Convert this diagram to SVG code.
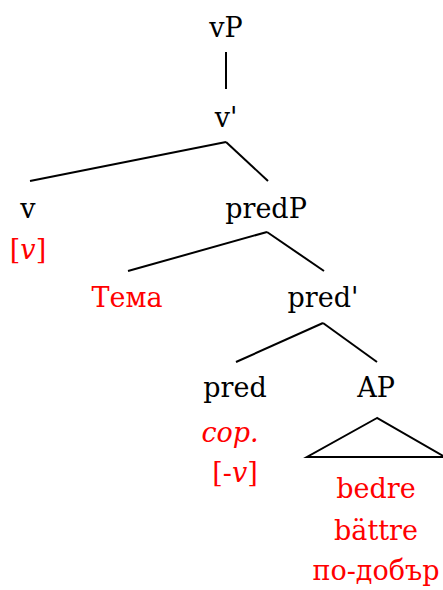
<svg xmlns="http://www.w3.org/2000/svg" width="443" height="590" viewBox="0 0 443 590">
<style>
text{font-family:"DejaVu Serif","Liberation Serif",serif;font-size:27px;text-anchor:middle}
.k{fill:#000}
.r{fill:#ff0000}
.i{font-style:italic}
line,polygon{stroke:#000;stroke-width:2;fill:none}
</style>
<rect width="443" height="590" fill="#fff"/>
<g id="connectors">
<line x1="226" y1="52" x2="226" y2="89"/>
<line x1="226" y1="142" x2="30" y2="181"/>
<line x1="226" y1="142" x2="268" y2="181"/>
<line x1="267" y1="232" x2="128" y2="271"/>
<line x1="267" y1="232" x2="324" y2="271"/>
<line x1="323" y1="323" x2="236" y2="362"/>
<line x1="323" y1="323" x2="377" y2="362"/>
</g>
<g id="n-vP"><text class="k" x="226" y="37">vP</text></g>
<g id="n-vbar"><text class="k" x="226" y="127">v'</text></g>
<g id="n-v"><text class="k" x="28" y="218">v</text><text class="r" x="28" y="259">[<tspan class="i">v</tspan>]</text></g>
<g id="n-predP"><text class="k" x="266" y="218">predP</text></g>
<g id="n-tema"><text class="r" x="127" y="307">Тема</text></g>
<g id="n-predbar"><text class="k" x="323" y="307">pred'</text></g>
<g id="n-pred"><text class="k" x="235" y="397">pred</text><text class="r i" x="230" y="442">cop.</text><text class="r" x="235" y="482">[-<tspan class="i">v</tspan>]</text></g>
<g id="n-AP"><text class="k" x="376" y="397">AP</text>
<polygon points="377,418 307,457 445,457"/>
<text class="r" x="376" y="498">bedre</text><text class="r" x="376" y="540">bättre</text><text class="r" x="376" y="580">по-добър</text></g>
</svg>
